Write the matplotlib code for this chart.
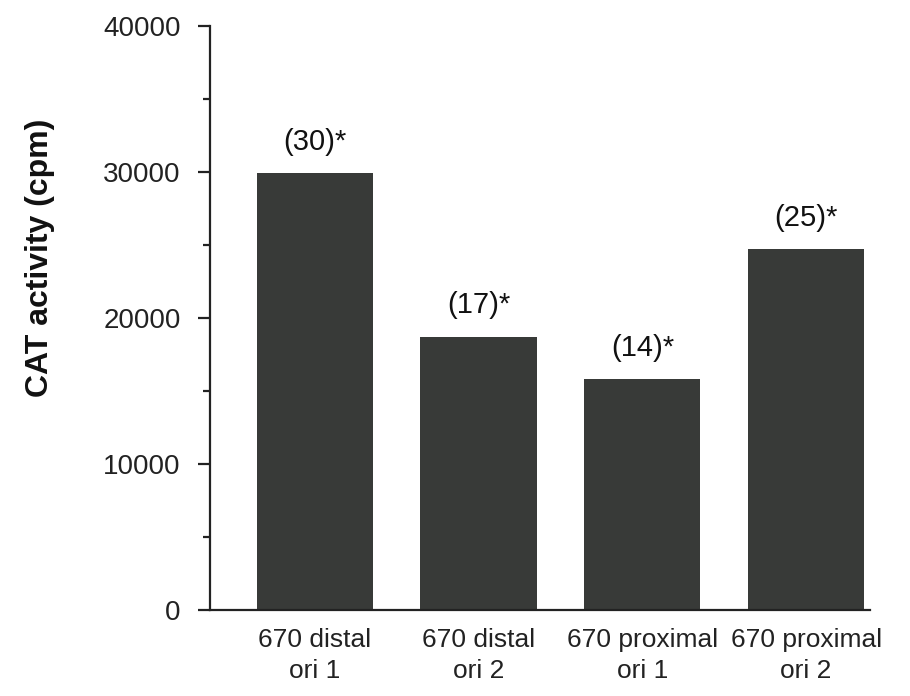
import matplotlib.pyplot as plt
from matplotlib.ticker import MultipleLocator


categories = ["670 distal\nori 1", "670 distal\nori 2", "670 proximal\nori 1", "670 proximal\nori 2"]
cat_activity = [29900, 18700, 15800, 24700]
fold_labels = ["(30)*", "(17)*", "(14)*", "(25)*"]
y_ticks = [0, 10000, 20000, 30000, 40000]

BAR_COLOR = "#383a38"
TEXT_COLOR = "#111111"
FONT = "Liberation Sans"


def main():
    plt.rcParams.update(
        {
            "font.family": FONT,
            "text.color": TEXT_COLOR,
            "axes.edgecolor": "#222222",
            "xtick.color": "#222222",
            "ytick.color": "#222222",
        }
    )

    fig = plt.figure(figsize=(9.1, 6.96), dpi=100)
    ax = fig.add_axes([210 / 910, 1 - 610 / 696, 660 / 910, 584 / 696])

    x = list(range(len(categories)))
    bars = ax.bar(x, cat_activity, width=0.71, color=BAR_COLOR, edgecolor="none")

    for bar, label in zip(bars, fold_labels):
        ax.annotate(
            label,
            (bar.get_x() + bar.get_width() / 2, bar.get_height()),
            xytext=(0, 17),
            textcoords="offset points",
            ha="center",
            va="baseline",
            fontsize=21,
        )

    ax.set_ylim(0, 40000)
    ax.set_xlim(-0.64, 3.39)
    ax.set_yticks(y_ticks)
    ax.set_yticklabels([str(v) for v in y_ticks])
    ax.yaxis.set_minor_locator(MultipleLocator(5000))
    ax.tick_params(axis="y", which="major", length=9, width=1.6, pad=12, labelsize=20)
    ax.tick_params(axis="y", which="minor", length=5, width=1.6)

    ax.set_xticks(x)
    ax.set_xticklabels(categories, fontsize=19, linespacing=1.35)
    ax.tick_params(axis="x", length=0, pad=13)

    ax.spines["top"].set_visible(False)
    ax.spines["right"].set_visible(False)
    ax.spines["left"].set_linewidth(1.6)
    ax.spines["bottom"].set_linewidth(1.6)

    fig.text(
        40 / 910,
        1 - 258 / 696,
        "CAT activity (cpm)",
        rotation=90,
        ha="center",
        va="center",
        fontsize=23,
        fontweight="bold",
    )

    fig.savefig("out.png", dpi=100)


if __name__ == "__main__":
    main()
